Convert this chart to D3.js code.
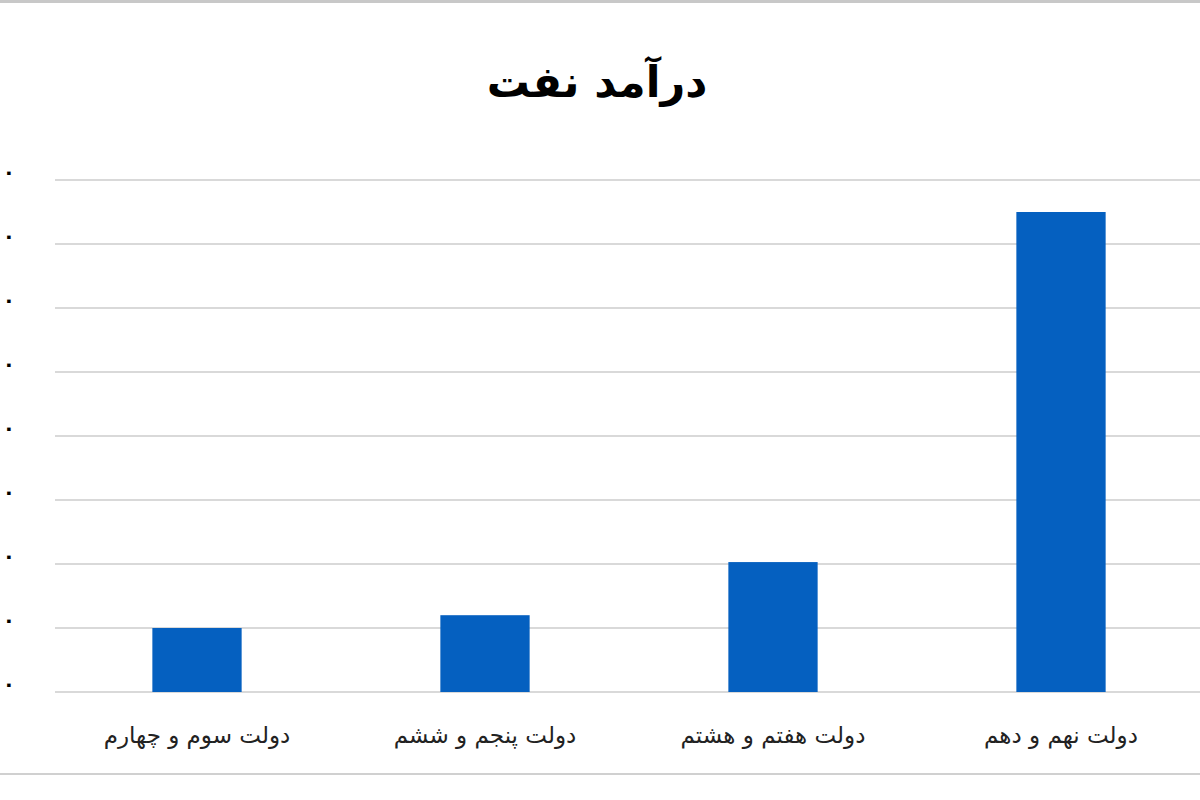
<!DOCTYPE html>
<html>
<head>
<meta charset="utf-8">
<script src="https://cdn.jsdelivr.net/npm/d3@7"></script>
<style>
    body { margin: 0; background: #fff; }
    svg { display: block; }
</style>
</head>
<body>
<div id="chart"></div>
<script>
// Data
const categories = ["دولت سوم و چهارم", "دولت پنجم و ششم", "دولت هفتم و هشتم", "دولت نهم و دهم"];
const revenue = [100, 120, 203, 750];
const yTicks = [0, 100, 200, 300, 400, 500, 600, 700, 800];
const title = "درآمد نفت";

const width = 1200;
const height = 800;

const svg = d3.select("#chart")
    .append("svg")
        .attr("width", width)
        .attr("height", height);

// Frame lines at top and bottom
svg.append("line")
    .attr("x1", 0).attr("x2", width)
    .attr("y1", 1.5).attr("y2", 1.5)
    .attr("stroke", "#c8c8c8")
    .attr("stroke-width", 3);
svg.append("line")
    .attr("x1", 0).attr("x2", width)
    .attr("y1", 774).attr("y2", 774)
    .attr("stroke", "#d0d0d0")
    .attr("stroke-width", 2);

// Scales
const xScale = d3.scaleBand()
    .domain(categories)
    .range([53, 1205])
    .paddingInner(0.69)
    .paddingOuter(0.345);

const yScale = d3.scaleLinear()
    .domain([0, 800])
    .range([692, 180]);

const toPersian = n => String(n).replace(/\d/g, d => "۰۱۲۳۴۵۶۷۸۹"[+d]);

// Gridlines
svg.append("g")
    .selectAll("line")
    .data(yTicks)
    .enter()
    .append("line")
        .attr("x1", 55)
        .attr("x2", width)
        .attr("y1", d => yScale(d))
        .attr("y2", d => yScale(d))
        .attr("stroke", "#d9d9d9")
        .attr("stroke-width", 2);

// Y tick labels (cut at the left edge, as in the original)
svg.append("g")
    .selectAll("text")
    .data(yTicks)
    .enter()
    .append("text")
        .attr("x", 15)
        .attr("y", d => yScale(d) - 1)
        .attr("text-anchor", "end")
        .attr("font-family", "DejaVu Sans, sans-serif")
        .attr("font-size", 20)
        .attr("font-weight", "bold")
        .attr("fill", "#000")
        .text(d => toPersian(d));

// Bars
svg.append("g")
    .selectAll("rect")
    .data(revenue)
    .enter()
    .append("rect")
        .attr("x", (d, i) => xScale(categories[i]))
        .attr("y", d => yScale(d))
        .attr("width", xScale.bandwidth())
        .attr("height", d => yScale(0) - yScale(d))
        .attr("fill", "#0560C0");

// Category labels
svg.append("g")
    .selectAll("text")
    .data(categories)
    .enter()
    .append("text")
        .attr("x", d => xScale(d) + xScale.bandwidth() / 2)
        .attr("y", 743)
        .attr("text-anchor", "middle")
        .attr("direction", "rtl")
        .attr("font-family", "DejaVu Sans, sans-serif")
        .attr("font-size", 23)
        .attr("fill", "#222")
        .text(d => d);

// Title
svg.append("text")
    .attr("x", 597)
    .attr("y", 97)
    .attr("text-anchor", "middle")
    .attr("direction", "rtl")
    .attr("font-family", "DejaVu Sans, sans-serif")
    .attr("font-size", 43)
    .attr("font-weight", "bold")
    .attr("fill", "#000")
    .text(title);
</script>
</body>
</html>
